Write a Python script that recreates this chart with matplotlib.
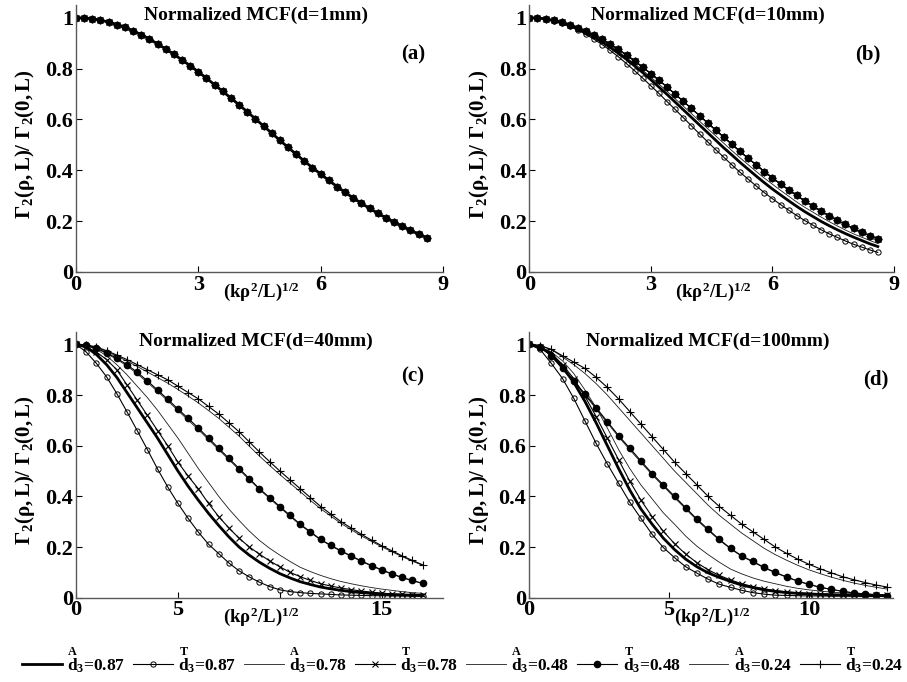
import numpy as np
import matplotlib.pyplot as plt

plt.rcParams['font.family'] = ['Liberation Serif', 'DejaVu Serif']
plt.rcParams['font.weight'] = 'bold'
plt.rcParams['mathtext.fontset'] = 'custom'
plt.rcParams['mathtext.rm'] = 'Liberation Serif:bold'
plt.rcParams['mathtext.it'] = 'Liberation Serif:bold'
plt.rcParams['mathtext.bf'] = 'Liberation Serif:bold'

# series order: A 0.87, T 0.87, A 0.78, T 0.78, A 0.48, T 0.48, A 0.24, T 0.24
labels = [r'$\overset{A}{d}_3$=0.87', r'$\overset{T}{d}_3$=0.87',
          r'$\overset{A}{d}_3$=0.78', r'$\overset{T}{d}_3$=0.78',
          r'$\overset{A}{d}_3$=0.48', r'$\overset{T}{d}_3$=0.48',
          r'$\overset{A}{d}_3$=0.24', r'$\overset{T}{d}_3$=0.24']

# ---- panel (a): d = 1 mm, all curves coincide
xa = np.arange(0, 8.61, 0.2)
a_all = [1.000, 0.999, 0.996, 0.990, 0.983, 0.973, 0.962, 0.948, 0.933, 0.916, 0.897,
         0.877, 0.856, 0.834, 0.811, 0.787, 0.762, 0.736, 0.710, 0.684, 0.657, 0.630,
         0.602, 0.574, 0.546, 0.518, 0.490, 0.463, 0.436, 0.410, 0.385, 0.360, 0.336,
         0.313, 0.291, 0.270, 0.250, 0.231, 0.213, 0.196, 0.180, 0.164, 0.149, 0.135]

# ---- panel (b): d = 10 mm
xb = np.arange(0, 8.61, 0.2)
b_T087 = [1.000, 0.999, 0.995, 0.988, 0.978, 0.966, 0.951, 0.934, 0.915, 0.894, 0.871,
          0.846, 0.819, 0.791, 0.762, 0.732, 0.702, 0.670, 0.639, 0.607, 0.575, 0.543,
          0.512, 0.481, 0.451, 0.421, 0.392, 0.365, 0.338, 0.312, 0.288, 0.265, 0.243,
          0.222, 0.202, 0.184, 0.166, 0.150, 0.136, 0.122, 0.109, 0.098, 0.087, 0.077]
b_A087 = [1.000, 0.999, 0.995, 0.989, 0.980, 0.969, 0.956, 0.941, 0.924, 0.904, 0.883,
          0.860, 0.836, 0.810, 0.784, 0.756, 0.727, 0.698, 0.668, 0.638, 0.608, 0.578,
          0.548, 0.518, 0.488, 0.460, 0.431, 0.404, 0.377, 0.351, 0.326, 0.303, 0.280,
          0.258, 0.237, 0.218, 0.199, 0.182, 0.166, 0.151, 0.137, 0.124, 0.111, 0.100]
b_A078 = [1.000, 0.999, 0.995, 0.989, 0.981, 0.971, 0.958, 0.944, 0.927, 0.909, 0.888,
          0.867, 0.843, 0.819, 0.793, 0.766, 0.739, 0.710, 0.681, 0.652, 0.623, 0.593,
          0.564, 0.535, 0.506, 0.477, 0.449, 0.422, 0.395, 0.369, 0.345, 0.321, 0.298,
          0.275, 0.254, 0.235, 0.216, 0.198, 0.181, 0.165, 0.150, 0.137, 0.124, 0.112]
b_upper = [1.000, 0.999, 0.996, 0.990, 0.983, 0.973, 0.961, 0.947, 0.932, 0.915, 0.896,
           0.875, 0.853, 0.830, 0.805, 0.780, 0.754, 0.727, 0.699, 0.671, 0.643, 0.615,
           0.586, 0.558, 0.530, 0.502, 0.474, 0.447, 0.421, 0.395, 0.370, 0.346, 0.323,
           0.301, 0.279, 0.259, 0.239, 0.221, 0.203, 0.187, 0.171, 0.156, 0.143, 0.130]

# ---- panel (c): d = 40 mm
xc = np.arange(0, 17.01, 0.5)
c_A087 = [1, 0.99, 0.96, 0.92, 0.87, 0.81, 0.75, 0.69, 0.63, 0.565, 0.50, 0.44, 0.385,
          0.333, 0.285, 0.24, 0.2, 0.168, 0.14, 0.116, 0.095, 0.078, 0.063, 0.052, 0.042,
          0.035, 0.029, 0.024, 0.02, 0.017, 0.014, 0.012, 0.011, 0.01, 0.009]
c_T087 = [1.0, 0.97, 0.925, 0.872, 0.806, 0.734, 0.66, 0.585, 0.508, 0.437, 0.372, 0.313,
          0.259, 0.211, 0.174, 0.137, 0.106, 0.082, 0.061, 0.044, 0.031, 0.024, 0.02,
          0.017, 0.015, 0.013, 0.011, 0.01, 0.009, 0.008, 0.008, 0.007, 0.007, 0.006, 0.006]
c_A078 = [1, 0.995, 0.98, 0.955, 0.92, 0.88, 0.835, 0.79, 0.74, 0.685, 0.63, 0.57, 0.51,
          0.455, 0.40, 0.35, 0.305, 0.263, 0.226, 0.195, 0.168, 0.143, 0.12, 0.103, 0.088,
          0.075, 0.064, 0.055, 0.047, 0.04, 0.034, 0.029, 0.024, 0.02, 0.017]
c_T078 = [1, 0.99, 0.97, 0.94, 0.90, 0.84, 0.78, 0.72, 0.66, 0.60, 0.535, 0.48, 0.43,
          0.372, 0.32, 0.275, 0.235, 0.2, 0.172, 0.145, 0.122, 0.1, 0.083, 0.068, 0.055,
          0.046, 0.038, 0.032, 0.026, 0.022, 0.018, 0.015, 0.013, 0.011, 0.01]
c_A048 = [1, 0.995, 0.983, 0.964, 0.941, 0.915, 0.884, 0.85, 0.814, 0.777, 0.739, 0.701,
          0.663, 0.624, 0.584, 0.545, 0.505, 0.466, 0.427, 0.391, 0.356, 0.321, 0.287,
          0.257, 0.228, 0.205, 0.183, 0.163, 0.143, 0.125, 0.108, 0.093, 0.079, 0.067, 0.056]
c_T048 = [1, 0.996, 0.985, 0.967, 0.945, 0.92, 0.89, 0.856, 0.82, 0.783, 0.745, 0.708,
          0.67, 0.63, 0.59, 0.55, 0.51, 0.47, 0.43, 0.395, 0.36, 0.325, 0.29, 0.26, 0.23,
          0.207, 0.185, 0.165, 0.145, 0.127, 0.11, 0.094, 0.08, 0.068, 0.057]
c_A024 = [1, 0.997, 0.988, 0.972, 0.954, 0.934, 0.913, 0.891, 0.869, 0.847, 0.822, 0.796,
          0.769, 0.739, 0.708, 0.673, 0.638, 0.598, 0.559, 0.522, 0.486, 0.452, 0.418,
          0.384, 0.351, 0.322, 0.293, 0.268, 0.244, 0.222, 0.201, 0.181, 0.162, 0.144, 0.128]
c_T024 = [1, 0.998, 0.99, 0.975, 0.958, 0.94, 0.92, 0.9, 0.88, 0.86, 0.835, 0.81, 0.785,
          0.755, 0.725, 0.69, 0.655, 0.615, 0.575, 0.537, 0.50, 0.465, 0.43, 0.395, 0.36,
          0.33, 0.30, 0.275, 0.25, 0.227, 0.205, 0.185, 0.165, 0.147, 0.13]

# ---- panel (d): d = 100 mm
xd = np.arange(0, 12.81, 0.4)
d_A087 = [1, 0.99, 0.96, 0.91, 0.85, 0.775, 0.69, 0.60, 0.51, 0.425, 0.35, 0.29, 0.235,
          0.19, 0.152, 0.122, 0.098, 0.08, 0.064, 0.05, 0.04, 0.031, 0.025, 0.02, 0.017,
          0.015, 0.013, 0.012, 0.011, 0.01, 0.01, 0.009, 0.009]
d_T087 = [1.0, 0.98, 0.925, 0.865, 0.787, 0.698, 0.609, 0.528, 0.452, 0.377, 0.313, 0.25,
          0.198, 0.158, 0.122, 0.097, 0.073, 0.053, 0.041, 0.029, 0.020, 0.014, 0.010,
          0.009, 0.008, 0.007, 0.007, 0.006, 0.006, 0.006, 0.005, 0.005, 0.005]
d_A078 = [1, 0.99, 0.97, 0.935, 0.885, 0.82, 0.75, 0.67, 0.585, 0.51, 0.445, 0.39, 0.335,
          0.29, 0.243, 0.203, 0.17, 0.14, 0.113, 0.094, 0.078, 0.065, 0.055, 0.045, 0.037,
          0.031, 0.026, 0.022, 0.019, 0.017, 0.015, 0.013, 0.012]
d_T078 = [1, 0.99, 0.965, 0.92, 0.865, 0.795, 0.715, 0.63, 0.545, 0.46, 0.385, 0.32,
          0.262, 0.213, 0.172, 0.138, 0.11, 0.088, 0.07, 0.055, 0.044, 0.035, 0.028, 0.023,
          0.019, 0.016, 0.014, 0.013, 0.012, 0.011, 0.011, 0.01, 0.01]
d_A048 = [1, 0.99, 0.953, 0.902, 0.851, 0.8, 0.745, 0.69, 0.635, 0.584, 0.534, 0.485,
          0.44, 0.395, 0.35, 0.306, 0.266, 0.227, 0.193, 0.163, 0.141, 0.118, 0.098, 0.081,
          0.065, 0.052, 0.041, 0.033, 0.025, 0.019, 0.015, 0.011, 0.008]
d_T048 = [1, 0.99, 0.955, 0.905, 0.855, 0.805, 0.75, 0.695, 0.64, 0.59, 0.54, 0.49,
          0.445, 0.40, 0.355, 0.31, 0.27, 0.23, 0.195, 0.165, 0.143, 0.12, 0.10, 0.082,
          0.066, 0.053, 0.041, 0.033, 0.025, 0.019, 0.015, 0.011, 0.008]
d_A024 = [1, 0.995, 0.98, 0.95, 0.92, 0.885, 0.845, 0.80, 0.75, 0.70, 0.65, 0.60, 0.55,
          0.50, 0.455, 0.41, 0.365, 0.325, 0.29, 0.255, 0.225, 0.195, 0.17, 0.148, 0.128,
          0.11, 0.095, 0.081, 0.069, 0.058, 0.049, 0.041, 0.034]
d_T024 = [1, 0.995, 0.98, 0.955, 0.93, 0.905, 0.87, 0.83, 0.785, 0.735, 0.685, 0.635,
          0.585, 0.535, 0.49, 0.445, 0.40, 0.36, 0.325, 0.29, 0.26, 0.23, 0.20, 0.175,
          0.152, 0.132, 0.114, 0.098, 0.083, 0.071, 0.06, 0.05, 0.042]

styles = [
    dict(color='k', lw=2.0),
    dict(color='k', lw=0.8, marker='o', ms=3.8, mfc='none', mew=0.7),
    dict(color='0.1', lw=0.6),
    dict(color='k', lw=0.8, marker='x', ms=4.5, mew=0.8),
    dict(color='0.1', lw=0.6),
    dict(color='k', lw=0.8, marker='o', ms=4.5),
    dict(color='0.1', lw=0.6),
    dict(color='k', lw=0.8, marker='+', ms=6, mew=0.8),
]

panels = [
    dict(pos=[0.0838, 0.6012, 0.4046, 0.3915], x=xa,
         ys=[a_all] * 8, xlim=9, xticks=[0, 3, 6, 9], xtl=['0', '3', '6', '9'],
         title='Normalized MCF(d=1mm)', tag='(a)', tagpos=(0.918, 0.813)),
    dict(pos=[0.5836, 0.6012, 0.4021, 0.3915], x=xb,
         ys=[b_A087, b_T087, b_A078, b_upper, b_upper, b_upper, b_upper, b_upper],
         xlim=9, xticks=[0, 3, 6, 9], xtl=['0', '3', '6', '9'],
         title='Normalized MCF(d=10mm)', tag='(b)', tagpos=(0.929, 0.813)),
    dict(pos=[0.0838, 0.1236, 0.4046, 0.3900], x=xc,
         ys=[c_A087, c_T087, c_A078, c_T078, c_A048, c_T048, c_A024, c_T024],
         xlim=18, xticks=[0, 5, 10, 15], xtl=['0', '5', '', '15'],
         title='Normalized MCF(d=40mm)', tag='(c)', tagpos=(0.916, 0.833)),
    dict(pos=[0.5832, 0.1236, 0.4013, 0.3900], x=xd,
         ys=[d_A087, d_T087, d_A078, d_T078, d_A048, d_T048, d_A024, d_T024],
         xlim=13, xticks=[0, 5, 10], xtl=['0', '5', '10'],
         title='Normalized MCF(d=100mm)', tag='(d)', tagpos=(0.953, 0.822)),
]

fig = plt.figure(figsize=(9.07, 6.82), dpi=100)
handles = None
for p in panels:
    ax = fig.add_axes(p['pos'])
    lines = []
    for y, st in zip(p['ys'], styles):
        ln, = ax.plot(p['x'], y, **st)
        lines.append(ln)
    if handles is None:
        handles = lines
    ax.set_xlim(0, p['xlim'])
    ax.set_ylim(0, 1.05)
    ax.set_xticks(p['xticks'])
    ax.set_xticklabels(p['xtl'])
    ax.set_yticks([0, 0.2, 0.4, 0.6, 0.8, 1])
    ax.set_yticklabels(['0', '0.2', '0.4', '0.6', '0.8', '1'])
    ax.tick_params(direction='in', length=4, width=0.8, labelsize=16, pad=2)
    for s in ['top', 'right']:
        ax.spines[s].set_visible(False)
    for s in ['left', 'bottom']:
        ax.spines[s].set_color('0.35')
        ax.spines[s].set_linewidth(1.0)
    ax.text(0.49, 0.995, p['title'], transform=ax.transAxes, ha='center', va='top',
            fontsize=14, fontweight='bold')
    ax.text(p['tagpos'][0], p['tagpos'][1], p['tag'], transform=ax.transAxes,
            ha='center', va='center', fontsize=15, fontweight='bold')
    ax.set_xlabel(r'$(k\rho^2/L)^{1/2}$', fontsize=13.5)
    ax.xaxis.set_label_coords(0.505, -0.03)
    ax.set_ylabel(r'$\Gamma_2(\rho,L)/\ \Gamma_2(0,L)$', fontsize=15)
    ax.yaxis.set_label_coords(-0.105, 0.48)

fig.legend(handles, labels, loc='center', bbox_to_anchor=(0.51, 0.032), ncol=8,
           frameon=False, fontsize=12.5, handlelength=2.3, handletextpad=0.3,
           columnspacing=0.45, borderpad=0.2)

fig.savefig('out.png', dpi=100)
